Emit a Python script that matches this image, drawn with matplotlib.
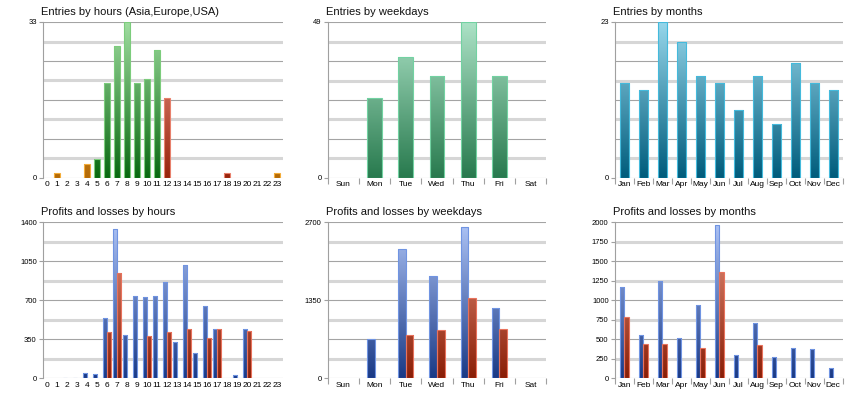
import numpy as np
import matplotlib
matplotlib.use('Agg')
import matplotlib.pyplot as plt
from matplotlib.colors import LinearSegmentedColormap

plt.rcParams['font.family'] = ['Liberation Sans', 'DejaVu Sans']

# data
hours = [str(h) for h in range(24)]
entries_hours = [0, 1, 0, 0, 3, 4, 20, 28, 33, 20, 21, 27, 17, 0, 0, 0, 0, 0, 1, 0, 0, 0, 0, 1]
sessions = ['asia'] * 5 + ['europe'] * 7 + ['usa'] * 7 + ['asia'] * 5

weekdays = ['Sun', 'Mon', 'Tue', 'Wed', 'Thu', 'Fri', 'Sat']
entries_weekdays = [0, 25, 38, 32, 49, 32, 0]

months = ['Jan', 'Feb', 'Mar', 'Apr', 'May', 'Jun', 'Jul', 'Aug', 'Sep', 'Oct', 'Nov', 'Dec']
entries_months = [14, 13, 23, 20, 15, 14, 10, 15, 8, 17, 14, 13]

profit_hours = [0, 0, 5, 8, 45, 40, 544, 1337, 389, 742, 733, 736, 861, 329, 1014, 224, 649, 440, 0, 30, 440, 0, 0, 0]
loss_hours = [0, 0, 0, 0, 0, 0, 419, 945, 0, 0, 383, 0, 419, 0, 440, 0, 362, 440, 0, 0, 425, 0, 0, 0]

profit_weekdays = [0, 675, 2244, 1777, 2625, 1223, 0]
loss_weekdays = [0, 0, 744, 842, 1385, 854, 0]

profit_months = [1175, 551, 1244, 513, 936, 1962, 295, 705, 278, 393, 372, 128]
loss_months = [782, 436, 436, 0, 385, 1363, 0, 423, 0, 0, 0, 0]

# bottom colour, top colour, edge colour
styles = {
    'asia': ('#b46a06', '#f8c468', '#f4ac38'),
    'europe': ('#086810', '#a0dca0', '#7ccc7c'),
    'usa': ('#98240c', '#f4a090', '#e8806c'),
    'weekday': ('#287a4e', '#ace2c6', '#72d2a2'),
    'month': ('#005c7c', '#96d6ea', '#44badc'),
    'profit': ('#1a3a86', '#aec4f6', '#7094e2'),
    'loss': ('#8a1e06', '#ec9882', '#e8725c'),
}


def grad_bars(ax, x, h, w, ymax, style):
    bot, top, edge = styles[style]
    cmap = LinearSegmentedColormap.from_list(style, [bot, top])
    grad = np.linspace(0, 1, 100).reshape(-1, 1)
    bars = ax.bar(x, h, w, color='none', edgecolor=edge, linewidth=0.8, zorder=4)
    for b, v in zip(bars, h):
        if v <= 0:
            b.set_visible(False)
            continue
        im = ax.imshow(grad, extent=(b.get_x(), b.get_x() + b.get_width(), 0, ymax),
                       origin='lower', cmap=cmap, aspect='auto', zorder=3, interpolation='bilinear')
        im.set_clip_path(b)


def setup(ax, title, labels, ymax, yticks, xlim, sep_ticks):
    ax.set_xlim(*xlim)
    ax.set_ylim(0, ymax)
    for k in range(9):
        y = ymax * k / 8
        if k % 2 == 0:
            ax.axhline(y, color='#a4a4a4', lw=0.8, zorder=1)
        else:
            ax.axhline(y, color='#d6d6d6', lw=2.2, zorder=1)
    for s in ['top', 'right', 'bottom']:
        ax.spines[s].set_visible(False)
    ax.spines['left'].set_color('#a0a0a0')
    ax.spines['left'].set_linewidth(0.8)
    ax.set_yticks(yticks)
    ax.set_yticklabels([str(t) for t in yticks])
    ax.tick_params(axis='y', length=3, color='#a0a0a0', pad=1.5, labelsize=5.5)
    ax.set_xticks(range(len(labels)))
    ax.set_xticklabels(labels)
    ax.tick_params(axis='x', length=0, pad=2.5, labelsize=6)
    if sep_ticks:
        ax.set_xticks(np.arange(len(labels) + 1) - 0.5, minor=True)
        ax.tick_params(axis='x', which='minor', length=4, color='#a0a0a0', width=0.8)
    ax.text(-0.01, 1.035, title, transform=ax.transAxes, fontsize=8, ha='left', va='bottom', color='#101010')


fig = plt.figure(figsize=(8.6, 4), dpi=100)
h_ax = 0.39
cols = [(0.050, 0.279), (0.3814, 0.2535), (0.715, 0.265)]
rows = [0.555, 0.054]
axs = [[fig.add_axes([c[0], r, c[1], h_ax]) for c in cols] for r in rows]

# entries by hours
ax = axs[0][0]
x = np.arange(24)
for sname in ['asia', 'europe', 'usa']:
    vals = [v if s == sname else 0 for v, s in zip(entries_hours, sessions)]
    grad_bars(ax, x, vals, 0.55, 33, sname)
setup(ax, 'Entries by hours (Asia,Europe,USA)', hours, 33, [0, 33], (-0.4, 23.6), False)

# entries by weekdays
ax = axs[0][1]
grad_bars(ax, np.arange(7), entries_weekdays, 0.48, 49, 'weekday')
setup(ax, 'Entries by weekdays', weekdays, 49, [0, 49], (-0.5, 6.5), True)

# entries by months
ax = axs[0][2]
grad_bars(ax, np.arange(12), entries_months, 0.49, 23, 'month')
setup(ax, 'Entries by months', months, 23, [0, 23], (-0.5, 11.5), True)

# profits and losses by hours
ax = axs[1][0]
bw = 0.44
grad_bars(ax, x - bw / 2, profit_hours, bw, 1400, 'profit')
grad_bars(ax, x + bw / 2, loss_hours, bw, 1400, 'loss')
setup(ax, 'Profits and losses by hours', hours, 1400, [0, 350, 700, 1050, 1400], (-0.4, 23.6), False)

# profits and losses by weekdays
ax = axs[1][1]
bw = 0.245
xw = np.arange(7)
grad_bars(ax, xw - bw / 2, profit_weekdays, bw, 2700, 'profit')
grad_bars(ax, xw + bw / 2, loss_weekdays, bw, 2700, 'loss')
setup(ax, 'Profits and losses by weekdays', weekdays, 2700, [0, 1350, 2700], (-0.5, 6.5), True)

# profits and losses by months
ax = axs[1][2]
bw = 0.25
xm = np.arange(12)
grad_bars(ax, xm - bw / 2, profit_months, bw, 2000, 'profit')
grad_bars(ax, xm + bw / 2, loss_months, bw, 2000, 'loss')
setup(ax, 'Profits and losses by months', months, 2000, list(range(0, 2001, 250)), (-0.5, 11.5), True)

fig.savefig('out.png', dpi=100, facecolor='white')
